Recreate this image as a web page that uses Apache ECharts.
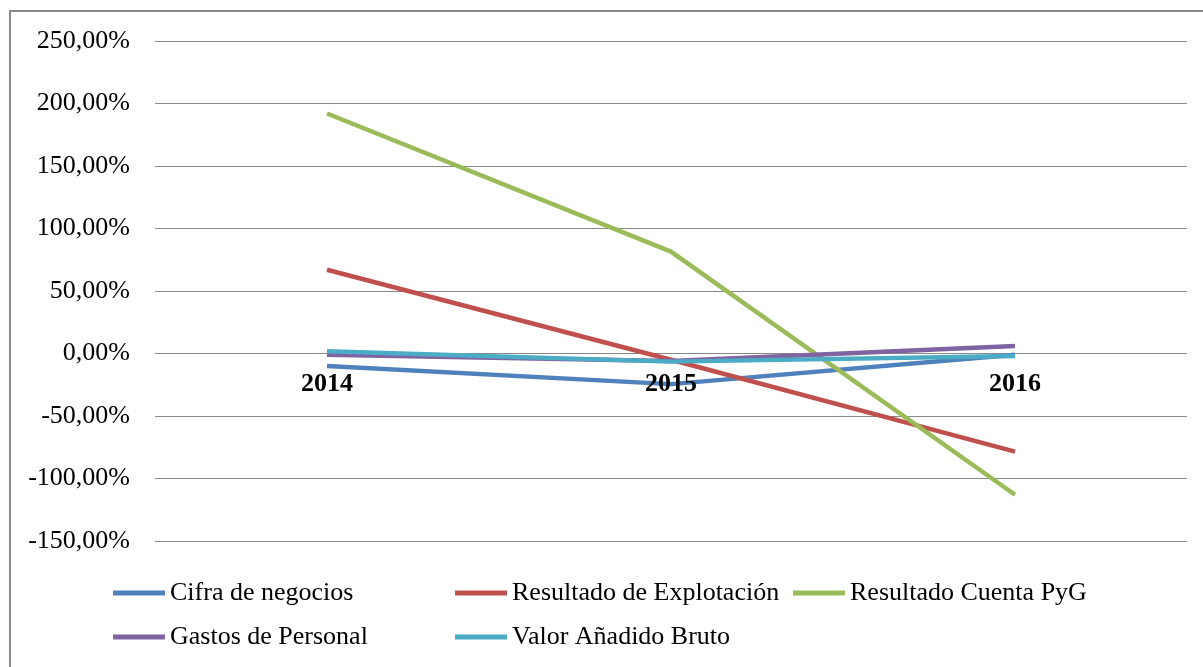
<!DOCTYPE html>
<html>
<head>
<meta charset="utf-8">
<script src="https://cdn.jsdelivr.net/npm/echarts@6/dist/echarts.min.js"></script>
<style>html,body{margin:0;padding:0;background:#fff}#c{width:1203px;height:667px}</style>
</head>
<body>
<div id="c"></div>
<script>
var categories = ['2014', '2015', '2016'];
var seriesNames = ['Cifra de negocios', 'Resultado de Explotación', 'Resultado Cuenta PyG', 'Gastos de Personal', 'Valor Añadido Bruto'];
var cifraNegocios = [-10, -24.5, -1];
var resultadoExplotacion = [67, -5, -78.5];
var resultadoPyG = [192, 81.5, -113];
var gastosPersonal = [-1, -6, 6];
var valorAnadido = [1.8, -6.5, -2];
var yTicks = { min: -150, max: 250, interval: 50 };

var colors = ['#4F81BD', '#C0504D', '#9BBB59', '#8064A2', '#4BACC6'];
var values = [cifraNegocios, resultadoExplotacion, resultadoPyG, gastosPersonal, valorAnadido];
var font = '"Liberation Serif", "Times New Roman", serif';

var legendPos = [[113, 578], [455, 578], [793, 578], [113, 622], [455, 622]];
var legends = seriesNames.map(function (n, i) {
  return {
    data: [n],
    left: legendPos[i][0],
    top: legendPos[i][1],
    padding: 0,
    icon: 'rect',
    itemWidth: 52,
    itemHeight: 5,
    textStyle: { fontFamily: font, fontSize: 26, color: '#000', lineHeight: 30 }
  };
});

var chart = echarts.init(document.getElementById('c'), null, { renderer: 'canvas' });
chart.setOption({
  animation: false,
  color: colors,
  graphic: [{
    type: 'rect',
    shape: { x: 10, y: 11, width: 1400, height: 1000 },
    style: { fill: 'none', stroke: '#898989', lineWidth: 2 },
    silent: true
  }],
  legend: legends,
  grid: { left: 155, right: 16, top: 41, bottom: 126, containLabel: false },
  xAxis: {
    type: 'category',
    data: categories,
    boundaryGap: true,
    z: 10,
    axisLine: { show: false },
    axisTick: { show: false },
    axisLabel: { fontFamily: font, fontSize: 26, fontWeight: 'bold', color: '#000', margin: -170 }
  },
  yAxis: {
    type: 'value',
    min: yTicks.min,
    max: yTicks.max,
    interval: yTicks.interval,
    axisLine: { show: false },
    axisTick: { show: false },
    splitLine: { lineStyle: { color: '#898989', width: 1 } },
    axisLabel: {
      fontFamily: font, fontSize: 26, color: '#000', margin: 25,
      formatter: function (v) { return v.toFixed(2).replace('.', ',') + '%'; }
    }
  },
  series: seriesNames.map(function (n, i) {
    return {
      name: n,
      type: 'line',
      data: values[i],
      symbol: 'none',
      z: 2,
      lineStyle: { width: 4.5, color: colors[i] },
      itemStyle: { color: colors[i] }
    };
  })
});
</script>
</body>
</html>
